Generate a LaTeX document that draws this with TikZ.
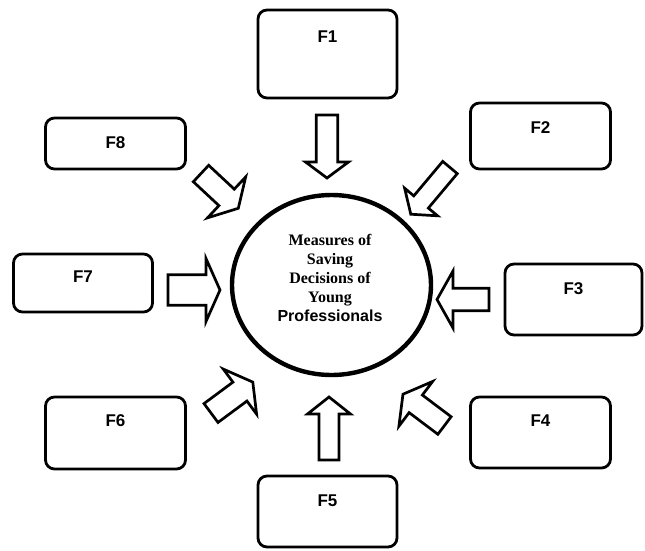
\documentclass[tikz,border=0pt]{standalone}
\usepackage{fontspec}
\setmainfont{Liberation Serif}
\newfontfamily\arialfont{Liberation Sans}
\tikzset{
  factor/.style={draw, line width=2.8pt, rounded corners=9pt, inner sep=0pt},
  flabel/.style={font=\arialfont\bfseries\fontsize{17}{19}\selectfont},
  hubline/.style={line width=4.4pt},
  pics/farrow/.style n args={4}{code={
      \draw[line width=2.7pt] (0,-#2/2) -- ({#1-#4},-#2/2) -- ({#1-#4},-#3/2) -- (#1,0)
        -- ({#1-#4},#3/2) -- ({#1-#4},#2/2) -- (0,#2/2) -- cycle;
    }}
}
\begin{document}
\begin{tikzpicture}[x=1pt, y=-1pt]
    \useasboundingbox (0,0) rectangle (645,550);
    % Draw the factor boxes
    \foreach \name/\x/\y/\w/\h/\off/\lab in {
            f1/327.5/54/139/88/28.5/F1, f2/540.5/136/140/66/26/F2,
            f3/573.5/299.5/137/71/26/F3, f4/540.5/432.5/140/71/25/F4,
            f5/327.5/511.5/139/71/26/F5, f6/115.5/433/140/72/25/F6,
            f7/83/283/139/58/24/F7, f8/115.5/143.5/140/51/26/F8} {
            \node[factor, minimum width=\w pt, minimum height=\h pt] (\name) at (\x,\y) {};
            \node[flabel] (\name lab) at ([yshift=-\off pt]\name.north) {\lab};
        }
    % Draw the central circle
    \coordinate (hubc) at (331.5,285);
    \draw[hubline] (hubc) ellipse [x radius=99.5, y radius=90];
    \node[align=center, font=\bfseries\fontsize{16}{19}\selectfont] (hub) at (330,278)
        {Measures of\\Saving\\Decisions of\\Young\\{\arialfont Professionals}};
    % Draw the block arrows towards the circle
    \foreach \x/\y/\ang/\len/\sw/\hw/\hl in {
            327/115/-90/63/21.5/43/16, 450/167.5/-130/61/19/43/16,
            489/299.5/180/52/22.5/57/16, 444.5/425.5/143/52/22/56/16,
            329/460/90/63/20/43/17, 211/413/36.5/52/23.5/56/16,
            168/290/0/52/30.5/63/14, 201/173.5/-43/51/22.5/56/16} {
            \pic[rotate=\ang] at (\x,\y) {farrow={\len}{\sw}{\hw}{\hl}};
        }
\end{tikzpicture}
\end{document}
